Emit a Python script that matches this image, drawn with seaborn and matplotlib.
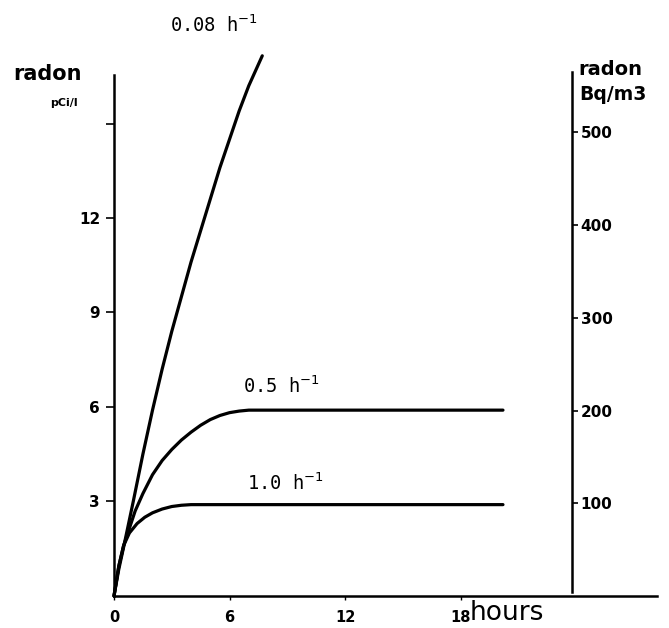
import numpy as np
import pandas as pd
import matplotlib
matplotlib.use("Agg")
import matplotlib.pyplot as plt
import seaborn as sns

# curves (hours, pCi/l)
t_008 = [0, 0.25, 0.5, 1, 1.5, 2, 2.5, 3, 3.5, 4, 4.5, 5, 5.5, 6, 6.5, 7, 7.7]
c_008 = [0, 0.85, 1.55, 3.0, 4.5, 5.9, 7.2, 8.4, 9.5, 10.6, 11.6, 12.6, 13.6, 14.5, 15.4, 16.2, 17.15]

t_05 = [0, 0.25, 0.5, 0.8, 1.1, 1.5, 2.0, 2.5, 3.0, 3.5, 4.0, 4.5, 5.0, 5.5, 6.0, 6.5, 7.0, 20.2]
c_05 = [0, 0.95, 1.6, 2.15, 2.7, 3.25, 3.85, 4.3, 4.65, 4.95, 5.2, 5.42, 5.6, 5.73, 5.82, 5.87, 5.9, 5.9]

t_10 = [0, 0.25, 0.5, 0.8, 1.2, 1.6, 2.0, 2.5, 3.0, 3.5, 4.0, 5.0, 20.2]
c_10 = [0, 0.95, 1.6, 2.0, 2.3, 2.5, 2.64, 2.76, 2.84, 2.88, 2.9, 2.9, 2.9]

rate_labels = [r"0.08 h$^{-1}$", r"0.5 h$^{-1}$", r"1.0 h$^{-1}$"]
x_ticks = [0, 6, 12, 18]
left_ticks = [3, 6, 9, 12, 15]
left_ticklabels = ["3", "6", "9", "12", ""]
right_ticks = [100, 200, 300, 400, 500]
bq_per_pci = 1 / 0.02944   # as drawn on the right-hand scale

df = pd.concat([
    pd.DataFrame({"t": t_008, "c": c_008, "rate": "0.08"}),
    pd.DataFrame({"t": t_05, "c": c_05, "rate": "0.5"}),
    pd.DataFrame({"t": t_10, "c": c_10, "rate": "1.0"}),
])

sns.set_style("ticks")
plt.rcParams["font.family"] = ["DejaVu Sans"]
plt.rcParams["text.color"] = "black"
plt.rcParams["xtick.color"] = "black"
plt.rcParams["ytick.color"] = "black"
plt.rcParams["axes.edgecolor"] = "black"

fig = plt.figure(figsize=(6.69, 6.28), dpi=100)
ax = fig.add_axes([0.1704, 0.051, 0.8117, 0.8777])

for r in ["0.08", "0.5", "1.0"]:
    d = df[df["rate"] == r]
    sns.lineplot(data=d, x="t", y="c", ax=ax, color="black", lw=2.3,
                 sort=False, estimator=None, clip_on=False)

ax.set_xlim(0, 28.2)
ax.set_ylim(0, 17.5)
ax.set_xlabel("")
ax.set_ylabel("")
ax.spines["top"].set_visible(False)
ax.spines["right"].set_visible(False)
ax.spines["left"].set_bounds(0, 16.55)
for s in ["left", "bottom"]:
    ax.spines[s].set_linewidth(1.8)
    ax.spines[s].set_color("black")

ax.set_xticks(x_ticks)
ax.set_xticklabels([str(v) for v in x_ticks])
ax.set_yticks(left_ticks)
ax.set_yticklabels(left_ticklabels)
ax.tick_params(axis="x", length=3, width=1, pad=7, labelsize=10.5)
ax.tick_params(axis="y", length=6, width=1.2, pad=4, labelsize=11)
for lab in ax.get_xticklabels() + ax.get_yticklabels():
    lab.set_fontweight("bold")

# right-hand Bq/m3 scale
ax2 = ax.twinx()
ax2.set_ylim(0, 17.5 * bq_per_pci)
for s in ["top", "left", "bottom"]:
    ax2.spines[s].set_visible(False)
ax2.spines["right"].set_position(("data", 23.8))
ax2.spines["right"].set_bounds(4, 565)
ax2.spines["right"].set_linewidth(1.8)
ax2.spines["right"].set_color("black")
ax2.set_yticks(right_ticks)
ax2.set_yticklabels([str(v) for v in right_ticks])
ax2.tick_params(axis="y", length=4, width=1.2, pad=2, labelsize=11)
for lab in ax2.get_yticklabels():
    lab.set_fontweight("bold")

# curve labels
mono = "DejaVu Sans Mono"
ax.text(2.9, 17.9, rate_labels[0], fontsize=13.5, family=mono, va="baseline", clip_on=False)
ax.text(6.7, 6.44, rate_labels[1], fontsize=13.5, family=mono, va="baseline")
ax.text(6.9, 3.37, rate_labels[2], fontsize=13.5, family=mono, va="baseline")

# axis titles
def fig_text(x, y, s, **kw):
    fig.text(x / 669, 1 - y / 628, s, va="baseline", **kw)

fig_text(13, 80, "radon", fontsize=15, fontweight="bold")
fig_text(50, 106, "pCi/l", fontsize=8, fontweight="bold")
fig_text(578, 75, "radon", fontsize=14, fontweight="bold")
fig_text(579, 100, "Bq/m3", fontsize=13.5, fontweight="bold")
fig_text(470, 620, "hours", fontsize=19)

fig.savefig("out.png", dpi=100)
